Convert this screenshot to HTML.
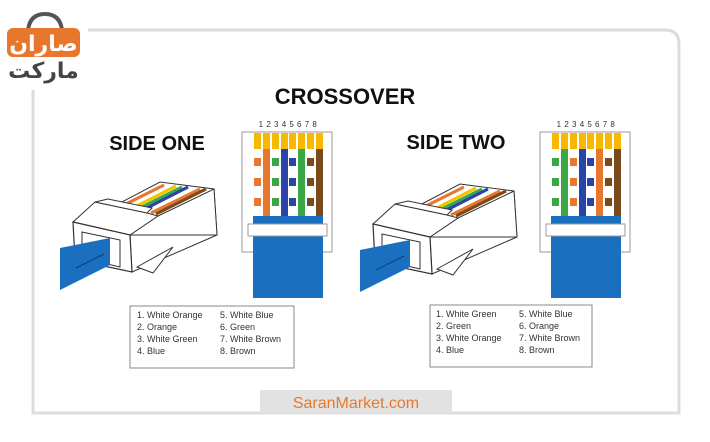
<!DOCTYPE html>
<html><head><meta charset="utf-8"><style>
html,body{margin:0;padding:0;background:#fff;width:710px;height:442px;overflow:hidden}
svg{display:block}
text{font-family:"Liberation Sans","DejaVu Sans",sans-serif}
</style></head><body>
<svg width="710" height="442" viewBox="0 0 710 442" xmlns="http://www.w3.org/2000/svg">
<!-- frame -->
<path d="M88 30 H665 Q679 30 679 44 V413 H33 V90" fill="none" stroke="#dcdcdc" stroke-width="3"/>
<!-- logo -->
<path d="M28 30 Q30 14 45 14 Q60 14 62 30" fill="none" stroke="#555" stroke-width="4"/>
<rect x="7" y="28" width="73" height="29" rx="6" fill="#e8772e"/>
<text x="43.5" y="51" text-anchor="middle" font-size="22" font-weight="bold" fill="#fff" font-family="DejaVu Sans,sans-serif">صاران</text>
<text x="43.5" y="78" text-anchor="middle" font-size="22" font-weight="bold" fill="#444" font-family="DejaVu Sans,sans-serif">مارکت</text>
<!-- titles -->
<text x="345" y="104" text-anchor="middle" font-size="22" font-weight="bold" fill="#111">CROSSOVER</text>
<text x="157" y="150" text-anchor="middle" font-size="20" font-weight="bold" fill="#111">SIDE ONE</text>
<text x="456" y="149" text-anchor="middle" font-size="20" font-weight="bold" fill="#111">SIDE TWO</text>

<!-- connector side one -->
<g id="conn">
<polygon points="118,204 160,182 214,189 217,235 132,272 130,235" fill="#fff" stroke="#333" stroke-width="1"/>
<g stroke-width="3.2">
<line x1="122" y1="206" x2="164" y2="185" stroke="#e8772e"/>
<line x1="127" y1="208" x2="170" y2="186" stroke="#fff"/>
<line x1="131" y1="209" x2="176" y2="186" stroke="#f5c400"/>
<line x1="136" y1="210" x2="182" y2="187" stroke="#3aa845"/>
<line x1="141" y1="211" x2="188" y2="187" stroke="#2a43a8"/>
<line x1="146" y1="212" x2="194" y2="188" stroke="#fff"/>
<line x1="151" y1="213" x2="200" y2="189" stroke="#e8772e"/>
<line x1="156" y1="214" x2="206" y2="189" stroke="#7a4a1c"/>
</g>
<polygon points="158,216 214,189 217,235 130,235" fill="#fff" stroke="#333" stroke-width="1"/>
<polygon points="73,222 95,202 147,213 158,216 130,235" fill="#fff" stroke="#333" stroke-width="1"/>
<polygon points="95,202 108,199 152,208 147,213" fill="#fff" stroke="#333" stroke-width="1"/>
<polygon points="137,267 173,247 153,273" fill="#fff" stroke="#333" stroke-width="1"/>
<polygon points="73,222 130,235 132,272 75,260" fill="#fff" stroke="#333" stroke-width="1.2"/>
<polygon points="82,232 120,240 120,267 82,258" fill="#fff" stroke="#333" stroke-width="1"/>
<polygon points="60,248 110,238 110,265 60,290" fill="#1b6fbf"/>
<line x1="76" y1="268" x2="104" y2="254" stroke="#0d3f75" stroke-width="1"/>
</g>
<use href="#conn" transform="translate(300,2)"/>

<!-- pinout side one -->
<g id="po">
<text x="288" y="127" text-anchor="middle" font-size="8" fill="#333" letter-spacing="0.5">1 2 3 4 5 6 7 8</text>
<rect x="242" y="132" width="90" height="120" fill="#fff" stroke="#999" stroke-width="1"/>
<rect x="253" y="216" width="70" height="82" fill="#1b6fbf"/>
<rect x="248" y="224" width="79" height="12" fill="#fff" stroke="#999" stroke-width="1"/>
</g>
<g fill="#f7b900">
<rect x="254" y="133" width="7" height="16"/><rect x="263" y="133" width="7" height="16"/><rect x="272" y="133" width="7" height="16"/><rect x="281" y="133" width="7" height="16"/><rect x="289" y="133" width="7" height="16"/><rect x="298" y="133" width="7" height="16"/><rect x="307" y="133" width="7" height="16"/><rect x="316" y="133" width="7" height="16"/>
</g>
<g>
<rect x="254" y="149" width="7" height="67" fill="#fff"/><rect x="254" y="158" width="7" height="8" fill="#e8772e"/><rect x="254" y="178" width="7" height="8" fill="#e8772e"/><rect x="254" y="198" width="7" height="8" fill="#e8772e"/>
<rect x="263" y="149" width="7" height="67" fill="#e8772e"/>
<rect x="272" y="149" width="7" height="67" fill="#fff"/><rect x="272" y="158" width="7" height="8" fill="#3aa845"/><rect x="272" y="178" width="7" height="8" fill="#3aa845"/><rect x="272" y="198" width="7" height="8" fill="#3aa845"/>
<rect x="281" y="149" width="7" height="67" fill="#2a43a8"/>
<rect x="289" y="149" width="7" height="67" fill="#fff"/><rect x="289" y="158" width="7" height="8" fill="#2a43a8"/><rect x="289" y="178" width="7" height="8" fill="#2a43a8"/><rect x="289" y="198" width="7" height="8" fill="#2a43a8"/>
<rect x="298" y="149" width="7" height="67" fill="#3aa845"/>
<rect x="307" y="149" width="7" height="67" fill="#fff"/><rect x="307" y="158" width="7" height="8" fill="#7a4a1c"/><rect x="307" y="178" width="7" height="8" fill="#7a4a1c"/><rect x="307" y="198" width="7" height="8" fill="#7a4a1c"/>
<rect x="316" y="149" width="7" height="67" fill="#7a4a1c"/>
</g>

<!-- pinout side two -->
<g transform="translate(298,0)">
<use href="#po"/>
<g fill="#f7b900">
<rect x="254" y="133" width="7" height="16"/><rect x="263" y="133" width="7" height="16"/><rect x="272" y="133" width="7" height="16"/><rect x="281" y="133" width="7" height="16"/><rect x="289" y="133" width="7" height="16"/><rect x="298" y="133" width="7" height="16"/><rect x="307" y="133" width="7" height="16"/><rect x="316" y="133" width="7" height="16"/>
</g>
<rect x="254" y="149" width="7" height="67" fill="#fff"/><rect x="254" y="158" width="7" height="8" fill="#3aa845"/><rect x="254" y="178" width="7" height="8" fill="#3aa845"/><rect x="254" y="198" width="7" height="8" fill="#3aa845"/>
<rect x="263" y="149" width="7" height="67" fill="#3aa845"/>
<rect x="272" y="149" width="7" height="67" fill="#fff"/><rect x="272" y="158" width="7" height="8" fill="#e8772e"/><rect x="272" y="178" width="7" height="8" fill="#e8772e"/><rect x="272" y="198" width="7" height="8" fill="#e8772e"/>
<rect x="281" y="149" width="7" height="67" fill="#2a43a8"/>
<rect x="289" y="149" width="7" height="67" fill="#fff"/><rect x="289" y="158" width="7" height="8" fill="#2a43a8"/><rect x="289" y="178" width="7" height="8" fill="#2a43a8"/><rect x="289" y="198" width="7" height="8" fill="#2a43a8"/>
<rect x="298" y="149" width="7" height="67" fill="#e8772e"/>
<rect x="307" y="149" width="7" height="67" fill="#fff"/><rect x="307" y="158" width="7" height="8" fill="#7a4a1c"/><rect x="307" y="178" width="7" height="8" fill="#7a4a1c"/><rect x="307" y="198" width="7" height="8" fill="#7a4a1c"/>
<rect x="316" y="149" width="7" height="67" fill="#7a4a1c"/>
</g>

<!-- legends -->
<g font-size="9" fill="#333">
<rect x="130" y="306" width="164" height="62" fill="#fff" stroke="#888"/>
<text x="137" y="318">1. White Orange</text><text x="137" y="330">2. Orange</text><text x="137" y="342">3. White Green</text><text x="137" y="354">4. Blue</text>
<text x="220" y="318">5. White Blue</text><text x="220" y="330">6. Green</text><text x="220" y="342">7. White Brown</text><text x="220" y="354">8. Brown</text>
<rect x="430" y="305" width="162" height="62" fill="#fff" stroke="#888"/>
<text x="436" y="317">1. White Green</text><text x="436" y="329">2. Green</text><text x="436" y="341">3. White Orange</text><text x="436" y="353">4. Blue</text>
<text x="519" y="317">5. White Blue</text><text x="519" y="329">6. Orange</text><text x="519" y="341">7. White Brown</text><text x="519" y="353">8. Brown</text>
</g>
<rect x="260" y="390" width="192" height="23" fill="#e2e2e2"/>
<text x="356" y="408" text-anchor="middle" font-size="16" fill="#e8772e">SaranMarket.com</text>
</svg>
</body></html>
